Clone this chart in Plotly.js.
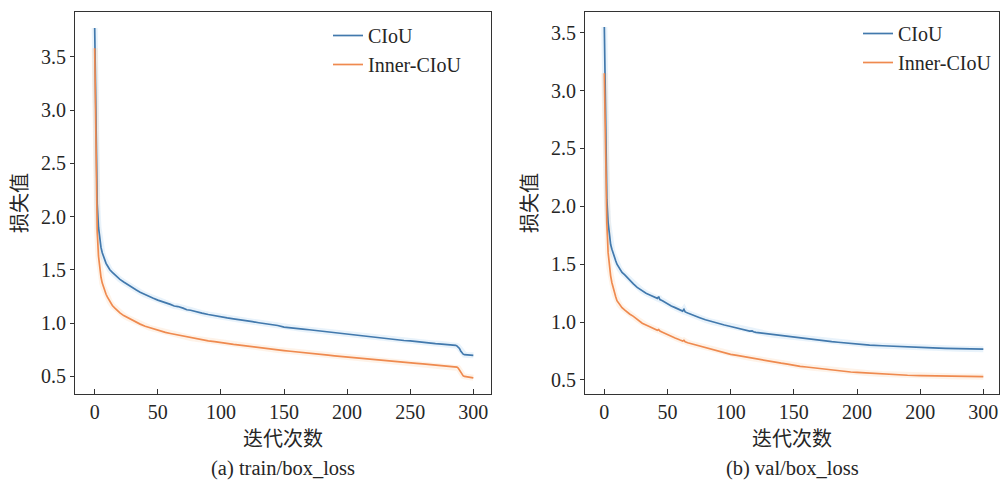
<!DOCTYPE html>
<html>
<head>
<meta charset="utf-8">
<script src="https://cdn.plot.ly/plotly-3.0.1.min.js"></script>
<style>html,body{margin:0;padding:0;background:#fff;}#chart{width:1001px;height:480px;}</style>
</head>
<body>
<div id="chart"></div>
<script>
// ---------- data ----------
const seriesNames = ["CIoU", "Inner-CIoU"];
const xTickVals = [0, 50, 100, 150, 200, 250, 300];
const xTickTextTrain = ["0", "50", "100", "150", "200", "250", "300"];
const xTickTextVal = ["0", "50", "100", "150", "200", "200", "300"];
const yTickVals = [0.5, 1.0, 1.5, 2.0, 2.5, 3.0, 3.5];
const yTickText = ["0.5", "1.0", "1.5", "2.0", "2.5", "3.0", "3.5"];
const captions = ["(a) train/box_loss", "(b) val/box_loss"];

const trainEpochs = [0,1,2,3,4,5,6,7,8,9,10,12,14,16,18,20,23,26,30,33,36,40,43,46,50,53,56,60,63,66,70,73,76,80,85,90,95,100,105,110,115,120,125,130,135,140,145,150,155,160,165,170,175,180,185,190,195,200,205,210,215,220,225,230,235,240,245,250,255,260,265,270,275,280,283,286,287,288,289,290,291,292,293,295,297,300];
const trainCIoU = [3.77,2.72,2.12,1.90,1.78,1.71,1.66,1.62,1.59,1.56,1.54,1.50,1.475,1.45,1.43,1.41,1.385,1.36,1.33,1.31,1.29,1.265,1.25,1.235,1.215,1.205,1.19,1.175,1.16,1.155,1.14,1.125,1.12,1.105,1.093,1.08,1.068,1.058,1.048,1.04,1.033,1.022,1.013,1.003,0.996,0.985,0.977,0.962,0.958,0.952,0.943,0.937,0.93,0.922,0.916,0.906,0.901,0.893,0.885,0.879,0.873,0.866,0.86,0.854,0.847,0.843,0.836,0.832,0.824,0.819,0.813,0.807,0.803,0.799,0.795,0.791,0.786,0.778,0.762,0.738,0.718,0.708,0.703,0.700,0.698,0.697];
const trainInner = [3.58,2.42,1.86,1.63,1.51,1.43,1.375,1.335,1.30,1.27,1.245,1.20,1.165,1.14,1.115,1.095,1.07,1.05,1.025,1.005,0.99,0.97,0.958,0.948,0.935,0.925,0.912,0.902,0.895,0.885,0.874,0.866,0.86,0.852,0.843,0.833,0.826,0.815,0.808,0.80,0.793,0.785,0.776,0.77,0.762,0.756,0.748,0.742,0.735,0.73,0.722,0.716,0.71,0.704,0.698,0.692,0.686,0.681,0.674,0.668,0.663,0.657,0.652,0.646,0.642,0.636,0.631,0.626,0.621,0.616,0.611,0.606,0.601,0.596,0.593,0.589,0.586,0.578,0.56,0.535,0.515,0.504,0.499,0.495,0.49,0.486];

const valEpochs = [0,1,2,3,4,5,6,7,8,9,10,12,14,16,18,20,23,26,30,33,36,40,42,43,44,46,50,53,56,60,62,63,64,66,70,75,80,85,90,95,100,105,110,115,117,118,120,125,130,135,140,145,150,155,160,165,168,170,175,180,185,190,195,200,210,220,230,240,250,260,270,280,290,300];
const valCIoU = [3.55,2.62,2.06,1.86,1.74,1.67,1.63,1.59,1.56,1.53,1.50,1.46,1.43,1.41,1.385,1.36,1.33,1.30,1.27,1.25,1.235,1.215,1.205,1.22,1.195,1.185,1.155,1.14,1.125,1.105,1.095,1.11,1.088,1.078,1.058,1.04,1.02,1.003,0.99,0.975,0.962,0.948,0.935,0.922,0.925,0.917,0.912,0.905,0.896,0.889,0.883,0.878,0.873,0.867,0.86,0.852,0.843,0.84,0.836,0.831,0.826,0.82,0.815,0.81,0.802,0.796,0.79,0.785,0.781,0.777,0.773,0.77,0.768,0.766];
const valInner = [3.15,2.30,1.85,1.60,1.47,1.40,1.34,1.29,1.25,1.22,1.185,1.15,1.125,1.105,1.085,1.07,1.05,1.025,0.99,0.975,0.96,0.94,0.93,0.935,0.922,0.912,0.89,0.875,0.862,0.845,0.837,0.842,0.83,0.822,0.81,0.795,0.78,0.765,0.752,0.738,0.722,0.712,0.702,0.692,0.688,0.684,0.68,0.672,0.663,0.655,0.645,0.637,0.625,0.618,0.612,0.605,0.601,0.598,0.592,0.586,0.58,0.574,0.569,0.565,0.558,0.551,0.546,0.541,0.538,0.535,0.533,0.531,0.530,0.529];

// ---------- style ----------
const BLUE = "#4279ad";
const ORANGE = "#ef8a4f";
const BLUE_HALO = "rgba(120,180,230,0.16)";
const ORANGE_HALO = "rgba(250,180,120,0.16)";
const SERIF = "Liberation Serif, Times New Roman, serif";
const CJK = "Noto Sans CJK SC, sans-serif";
const TXT = "#262626";

function halo(x, y, color, xa, ya) {
  return {x: x, y: y, xaxis: xa, yaxis: ya, type: "scatter", mode: "lines",
    line: {color: color, width: 6}, showlegend: false, hoverinfo: "skip"};
}
function main(x, y, color, name, xa, ya, leg) {
  return {x: x, y: y, xaxis: xa, yaxis: ya, type: "scatter", mode: "lines", name: name,
    line: {color: color, width: 1.7}, legend: leg};
}

const data = [
  halo(trainEpochs, trainCIoU, BLUE_HALO, "x", "y"),
  halo(trainEpochs, trainInner, ORANGE_HALO, "x", "y"),
  halo(valEpochs, valCIoU, BLUE_HALO, "x2", "y2"),
  halo(valEpochs, valInner, ORANGE_HALO, "x2", "y2"),
  main(trainEpochs, trainCIoU, BLUE, seriesNames[0], "x", "y", "legend"),
  main(trainEpochs, trainInner, ORANGE, seriesNames[1], "x", "y", "legend"),
  main(valEpochs, valCIoU, BLUE, seriesNames[0], "x2", "y2", "legend2"),
  main(valEpochs, valInner, ORANGE, seriesNames[1], "x2", "y2", "legend2")
];

const W = 1001, H = 480, ML = 75, MR = 2, MT = 12, MB = 86;
const PW = W - ML - MR, PH = H - MT - MB;
const px = v => (v - ML) / PW;
const py = v => (H - MB - v) / PH;

function xAxis(domain, range, ticktext, anchor) {
  return {domain: domain, range: range, anchor: anchor,
    tickmode: "array", tickvals: xTickVals, ticktext: ticktext,
    ticks: "inside", ticklen: 5, tickwidth: 1, tickcolor: "#333",
    showline: true, mirror: true, linecolor: "#333", linewidth: 1,
    showgrid: false, zeroline: false,
    tickfont: {family: SERIF, size: 20, color: TXT},
    title: {text: "迭代次数", font: {family: CJK, size: 20, color: TXT}, standoff: 6}};
}
function yAxis(range, anchor) {
  return {domain: [0, 1], range: range, anchor: anchor,
    tickmode: "array", tickvals: yTickVals, ticktext: yTickText,
    ticks: "outside", ticklen: 4, tickwidth: 1, tickcolor: "#333",
    showline: true, mirror: true, linecolor: "#333", linewidth: 1,
    showgrid: false, zeroline: false,
    tickfont: {family: SERIF, size: 20, color: TXT},
    title: {text: "损失值", font: {family: CJK, size: 20, color: TXT}, standoff: 8}};
}

const layout = {
  width: W, height: H,
  margin: {l: ML, r: MR, t: MT, b: MB},
  paper_bgcolor: "#fff", plot_bgcolor: "#fff",
  font: {family: SERIF, color: TXT},
  xaxis: xAxis([0, px(491)], [-15.6, 314], xTickTextTrain, "y"),
  yaxis: yAxis([0.334, 3.92], "x"),
  xaxis2: xAxis([px(585), 1], [-15.3, 312.4], xTickTextVal, "y2"),
  yaxis2: yAxis([0.379, 3.679], "x2"),
  legend: {x: px(328), y: py(16), xanchor: "left", yanchor: "top",
    bgcolor: "rgba(0,0,0,0)", font: {family: SERIF, size: 20, color: TXT},
    tracegroupgap: 0, itemwidth: 30},
  legend2: {x: px(858), y: py(14), xanchor: "left", yanchor: "top",
    bgcolor: "rgba(0,0,0,0)", font: {family: SERIF, size: 20, color: TXT},
    tracegroupgap: 0, itemwidth: 30},
  annotations: [
    {text: captions[0], xref: "paper", yref: "paper", x: px(283), y: py(468),
     xanchor: "center", yanchor: "middle", showarrow: false,
     font: {family: SERIF, size: 20.5, color: TXT}},
    {text: captions[1], xref: "paper", yref: "paper", x: px(792), y: py(468),
     xanchor: "center", yanchor: "middle", showarrow: false,
     font: {family: SERIF, size: 20.5, color: TXT}}
  ],
  showlegend: true
};

Plotly.newPlot("chart", data, layout, {staticPlot: true, displayModeBar: false});
</script>
</body>
</html>
